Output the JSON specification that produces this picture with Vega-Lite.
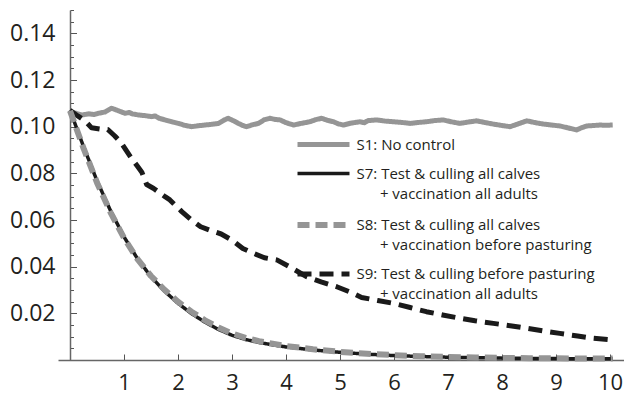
{
  "$schema": "https://vega.github.io/schema/vega-lite/v6.json",
  "width": 565.5,
  "height": 350,
  "autosize": {"type": "none"},
  "padding": {"left": 58, "top": 10, "right": 3.5, "bottom": 34},
  "background": "white",
  "config": {"view": {"stroke": null}, "font": "Open Sans"},
  "data": {"values": [
    {"t": 0, "v": 0.1063, "scenario": "S1: No control"},
    {"t": 0.1, "v": 0.1058, "scenario": "S1: No control"},
    {"t": 0.22, "v": 0.105, "scenario": "S1: No control"},
    {"t": 0.35, "v": 0.1055, "scenario": "S1: No control"},
    {"t": 0.45, "v": 0.1052, "scenario": "S1: No control"},
    {"t": 0.52, "v": 0.1057, "scenario": "S1: No control"},
    {"t": 0.65, "v": 0.1063, "scenario": "S1: No control"},
    {"t": 0.77, "v": 0.1079, "scenario": "S1: No control"},
    {"t": 0.9, "v": 0.1068, "scenario": "S1: No control"},
    {"t": 1.02, "v": 0.1057, "scenario": "S1: No control"},
    {"t": 1.1, "v": 0.1061, "scenario": "S1: No control"},
    {"t": 1.15, "v": 0.1055, "scenario": "S1: No control"},
    {"t": 1.27, "v": 0.105, "scenario": "S1: No control"},
    {"t": 1.4, "v": 0.1047, "scenario": "S1: No control"},
    {"t": 1.51, "v": 0.1043, "scenario": "S1: No control"},
    {"t": 1.58, "v": 0.1046, "scenario": "S1: No control"},
    {"t": 1.65, "v": 0.1036, "scenario": "S1: No control"},
    {"t": 1.76, "v": 0.1029, "scenario": "S1: No control"},
    {"t": 1.9, "v": 0.102, "scenario": "S1: No control"},
    {"t": 2.01, "v": 0.1014, "scenario": "S1: No control"},
    {"t": 2.12, "v": 0.1006, "scenario": "S1: No control"},
    {"t": 2.25, "v": 0.1, "scenario": "S1: No control"},
    {"t": 2.38, "v": 0.1004, "scenario": "S1: No control"},
    {"t": 2.5, "v": 0.1007, "scenario": "S1: No control"},
    {"t": 2.62, "v": 0.101, "scenario": "S1: No control"},
    {"t": 2.75, "v": 0.1014, "scenario": "S1: No control"},
    {"t": 2.85, "v": 0.1028, "scenario": "S1: No control"},
    {"t": 2.93, "v": 0.1036, "scenario": "S1: No control"},
    {"t": 3.03, "v": 0.1025, "scenario": "S1: No control"},
    {"t": 3.12, "v": 0.1014, "scenario": "S1: No control"},
    {"t": 3.2, "v": 0.1005, "scenario": "S1: No control"},
    {"t": 3.27, "v": 0.1, "scenario": "S1: No control"},
    {"t": 3.38, "v": 0.1008, "scenario": "S1: No control"},
    {"t": 3.49, "v": 0.1014, "scenario": "S1: No control"},
    {"t": 3.6, "v": 0.103, "scenario": "S1: No control"},
    {"t": 3.7, "v": 0.1036, "scenario": "S1: No control"},
    {"t": 3.8, "v": 0.1031, "scenario": "S1: No control"},
    {"t": 3.89, "v": 0.1029, "scenario": "S1: No control"},
    {"t": 4.0, "v": 0.1017, "scenario": "S1: No control"},
    {"t": 4.14, "v": 0.1007, "scenario": "S1: No control"},
    {"t": 4.28, "v": 0.1014, "scenario": "S1: No control"},
    {"t": 4.44, "v": 0.1021, "scenario": "S1: No control"},
    {"t": 4.55, "v": 0.103, "scenario": "S1: No control"},
    {"t": 4.66, "v": 0.1036, "scenario": "S1: No control"},
    {"t": 4.77, "v": 0.1027, "scenario": "S1: No control"},
    {"t": 4.88, "v": 0.1021, "scenario": "S1: No control"},
    {"t": 4.97, "v": 0.1012, "scenario": "S1: No control"},
    {"t": 5.06, "v": 0.1007, "scenario": "S1: No control"},
    {"t": 5.2, "v": 0.1015, "scenario": "S1: No control"},
    {"t": 5.37, "v": 0.1021, "scenario": "S1: No control"},
    {"t": 5.45, "v": 0.1017, "scenario": "S1: No control"},
    {"t": 5.52, "v": 0.1026, "scenario": "S1: No control"},
    {"t": 5.68, "v": 0.1029, "scenario": "S1: No control"},
    {"t": 5.83, "v": 0.1024, "scenario": "S1: No control"},
    {"t": 5.99, "v": 0.1021, "scenario": "S1: No control"},
    {"t": 6.15, "v": 0.1018, "scenario": "S1: No control"},
    {"t": 6.3, "v": 0.1014, "scenario": "S1: No control"},
    {"t": 6.45, "v": 0.1018, "scenario": "S1: No control"},
    {"t": 6.6, "v": 0.1021, "scenario": "S1: No control"},
    {"t": 6.75, "v": 0.1026, "scenario": "S1: No control"},
    {"t": 6.91, "v": 0.1029, "scenario": "S1: No control"},
    {"t": 7.06, "v": 0.1021, "scenario": "S1: No control"},
    {"t": 7.22, "v": 0.1014, "scenario": "S1: No control"},
    {"t": 7.38, "v": 0.102, "scenario": "S1: No control"},
    {"t": 7.53, "v": 0.1025, "scenario": "S1: No control"},
    {"t": 7.68, "v": 0.1018, "scenario": "S1: No control"},
    {"t": 7.84, "v": 0.1011, "scenario": "S1: No control"},
    {"t": 8.0, "v": 0.1005, "scenario": "S1: No control"},
    {"t": 8.15, "v": 0.1, "scenario": "S1: No control"},
    {"t": 8.3, "v": 0.1012, "scenario": "S1: No control"},
    {"t": 8.46, "v": 0.1025, "scenario": "S1: No control"},
    {"t": 8.6, "v": 0.1018, "scenario": "S1: No control"},
    {"t": 8.77, "v": 0.1011, "scenario": "S1: No control"},
    {"t": 8.92, "v": 0.1007, "scenario": "S1: No control"},
    {"t": 9.07, "v": 0.1003, "scenario": "S1: No control"},
    {"t": 9.22, "v": 0.0995, "scenario": "S1: No control"},
    {"t": 9.38, "v": 0.0986, "scenario": "S1: No control"},
    {"t": 9.47, "v": 0.0995, "scenario": "S1: No control"},
    {"t": 9.57, "v": 0.1003, "scenario": "S1: No control"},
    {"t": 9.7, "v": 0.1005, "scenario": "S1: No control"},
    {"t": 9.81, "v": 0.1007, "scenario": "S1: No control"},
    {"t": 9.93, "v": 0.1006, "scenario": "S1: No control"},
    {"t": 10.05, "v": 0.1007, "scenario": "S1: No control"},

    {"t": 0, "v": 0.107, "scenario": "S9: Test & culling before pasturing + vaccination all adults"},
    {"t": 0.15, "v": 0.1045, "scenario": "S9: Test & culling before pasturing + vaccination all adults"},
    {"t": 0.28, "v": 0.1025, "scenario": "S9: Test & culling before pasturing + vaccination all adults"},
    {"t": 0.4, "v": 0.0995, "scenario": "S9: Test & culling before pasturing + vaccination all adults"},
    {"t": 0.55, "v": 0.099, "scenario": "S9: Test & culling before pasturing + vaccination all adults"},
    {"t": 0.7, "v": 0.0988, "scenario": "S9: Test & culling before pasturing + vaccination all adults"},
    {"t": 0.83, "v": 0.096, "scenario": "S9: Test & culling before pasturing + vaccination all adults"},
    {"t": 0.95, "v": 0.093, "scenario": "S9: Test & culling before pasturing + vaccination all adults"},
    {"t": 1.05, "v": 0.0895, "scenario": "S9: Test & culling before pasturing + vaccination all adults"},
    {"t": 1.14, "v": 0.0864, "scenario": "S9: Test & culling before pasturing + vaccination all adults"},
    {"t": 1.25, "v": 0.083, "scenario": "S9: Test & culling before pasturing + vaccination all adults"},
    {"t": 1.33, "v": 0.0805, "scenario": "S9: Test & culling before pasturing + vaccination all adults"},
    {"t": 1.42, "v": 0.0752, "scenario": "S9: Test & culling before pasturing + vaccination all adults"},
    {"t": 1.55, "v": 0.0735, "scenario": "S9: Test & culling before pasturing + vaccination all adults"},
    {"t": 1.76, "v": 0.07, "scenario": "S9: Test & culling before pasturing + vaccination all adults"},
    {"t": 1.85, "v": 0.0686, "scenario": "S9: Test & culling before pasturing + vaccination all adults"},
    {"t": 2.07, "v": 0.0636, "scenario": "S9: Test & culling before pasturing + vaccination all adults"},
    {"t": 2.25, "v": 0.06, "scenario": "S9: Test & culling before pasturing + vaccination all adults"},
    {"t": 2.42, "v": 0.0571, "scenario": "S9: Test & culling before pasturing + vaccination all adults"},
    {"t": 2.6, "v": 0.0555, "scenario": "S9: Test & culling before pasturing + vaccination all adults"},
    {"t": 2.8, "v": 0.054, "scenario": "S9: Test & culling before pasturing + vaccination all adults"},
    {"t": 3.0, "v": 0.0514, "scenario": "S9: Test & culling before pasturing + vaccination all adults"},
    {"t": 3.2, "v": 0.0478, "scenario": "S9: Test & culling before pasturing + vaccination all adults"},
    {"t": 3.4, "v": 0.0457, "scenario": "S9: Test & culling before pasturing + vaccination all adults"},
    {"t": 3.6, "v": 0.0438, "scenario": "S9: Test & culling before pasturing + vaccination all adults"},
    {"t": 3.83, "v": 0.0429, "scenario": "S9: Test & culling before pasturing + vaccination all adults"},
    {"t": 4.1, "v": 0.0395, "scenario": "S9: Test & culling before pasturing + vaccination all adults"},
    {"t": 4.38, "v": 0.0357, "scenario": "S9: Test & culling before pasturing + vaccination all adults"},
    {"t": 4.65, "v": 0.0335, "scenario": "S9: Test & culling before pasturing + vaccination all adults"},
    {"t": 4.94, "v": 0.0314, "scenario": "S9: Test & culling before pasturing + vaccination all adults"},
    {"t": 5.2, "v": 0.029, "scenario": "S9: Test & culling before pasturing + vaccination all adults"},
    {"t": 5.4, "v": 0.0268, "scenario": "S9: Test & culling before pasturing + vaccination all adults"},
    {"t": 5.7, "v": 0.0255, "scenario": "S9: Test & culling before pasturing + vaccination all adults"},
    {"t": 5.99, "v": 0.0243, "scenario": "S9: Test & culling before pasturing + vaccination all adults"},
    {"t": 6.3, "v": 0.0225, "scenario": "S9: Test & culling before pasturing + vaccination all adults"},
    {"t": 6.6, "v": 0.0207, "scenario": "S9: Test & culling before pasturing + vaccination all adults"},
    {"t": 6.9, "v": 0.0193, "scenario": "S9: Test & culling before pasturing + vaccination all adults"},
    {"t": 7.22, "v": 0.0179, "scenario": "S9: Test & culling before pasturing + vaccination all adults"},
    {"t": 7.5, "v": 0.0168, "scenario": "S9: Test & culling before pasturing + vaccination all adults"},
    {"t": 7.84, "v": 0.0157, "scenario": "S9: Test & culling before pasturing + vaccination all adults"},
    {"t": 8.15, "v": 0.0147, "scenario": "S9: Test & culling before pasturing + vaccination all adults"},
    {"t": 8.46, "v": 0.0136, "scenario": "S9: Test & culling before pasturing + vaccination all adults"},
    {"t": 8.75, "v": 0.0125, "scenario": "S9: Test & culling before pasturing + vaccination all adults"},
    {"t": 9.07, "v": 0.0114, "scenario": "S9: Test & culling before pasturing + vaccination all adults"},
    {"t": 9.4, "v": 0.0103, "scenario": "S9: Test & culling before pasturing + vaccination all adults"},
    {"t": 9.69, "v": 0.0093, "scenario": "S9: Test & culling before pasturing + vaccination all adults"},
    {"t": 10.03, "v": 0.0086, "scenario": "S9: Test & culling before pasturing + vaccination all adults"},

    {"t": 0, "v": 0.107, "scenario": "S7: Test & culling all calves + vaccination all adults"},
    {"t": 0.25, "v": 0.0915, "scenario": "S7: Test & culling all calves + vaccination all adults"},
    {"t": 0.5, "v": 0.0768, "scenario": "S7: Test & culling all calves + vaccination all adults"},
    {"t": 0.75, "v": 0.064, "scenario": "S7: Test & culling all calves + vaccination all adults"},
    {"t": 1.0, "v": 0.0528, "scenario": "S7: Test & culling all calves + vaccination all adults"},
    {"t": 1.25, "v": 0.0434, "scenario": "S7: Test & culling all calves + vaccination all adults"},
    {"t": 1.5, "v": 0.0357, "scenario": "S7: Test & culling all calves + vaccination all adults"},
    {"t": 1.75, "v": 0.0295, "scenario": "S7: Test & culling all calves + vaccination all adults"},
    {"t": 2.0, "v": 0.0243, "scenario": "S7: Test & culling all calves + vaccination all adults"},
    {"t": 2.25, "v": 0.0199, "scenario": "S7: Test & culling all calves + vaccination all adults"},
    {"t": 2.5, "v": 0.0162, "scenario": "S7: Test & culling all calves + vaccination all adults"},
    {"t": 2.75, "v": 0.0131, "scenario": "S7: Test & culling all calves + vaccination all adults"},
    {"t": 3.0, "v": 0.0106, "scenario": "S7: Test & culling all calves + vaccination all adults"},
    {"t": 3.25, "v": 0.0088, "scenario": "S7: Test & culling all calves + vaccination all adults"},
    {"t": 3.5, "v": 0.0075, "scenario": "S7: Test & culling all calves + vaccination all adults"},
    {"t": 3.75, "v": 0.0065, "scenario": "S7: Test & culling all calves + vaccination all adults"},
    {"t": 4.0, "v": 0.0056, "scenario": "S7: Test & culling all calves + vaccination all adults"},
    {"t": 4.5, "v": 0.0043, "scenario": "S7: Test & culling all calves + vaccination all adults"},
    {"t": 5.0, "v": 0.0033, "scenario": "S7: Test & culling all calves + vaccination all adults"},
    {"t": 5.5, "v": 0.0025, "scenario": "S7: Test & culling all calves + vaccination all adults"},
    {"t": 6.0, "v": 0.0019, "scenario": "S7: Test & culling all calves + vaccination all adults"},
    {"t": 6.5, "v": 0.0015, "scenario": "S7: Test & culling all calves + vaccination all adults"},
    {"t": 7.0, "v": 0.0012, "scenario": "S7: Test & culling all calves + vaccination all adults"},
    {"t": 7.5, "v": 0.001, "scenario": "S7: Test & culling all calves + vaccination all adults"},
    {"t": 8.0, "v": 0.0008, "scenario": "S7: Test & culling all calves + vaccination all adults"},
    {"t": 8.5, "v": 0.0007, "scenario": "S7: Test & culling all calves + vaccination all adults"},
    {"t": 9.0, "v": 0.0006, "scenario": "S7: Test & culling all calves + vaccination all adults"},
    {"t": 9.5, "v": 0.0005, "scenario": "S7: Test & culling all calves + vaccination all adults"},
    {"t": 10.05, "v": 0.0005, "scenario": "S7: Test & culling all calves + vaccination all adults"},

    {"t": 0, "v": 0.1068, "scenario": "S8: Test & culling all calves + vaccination before pasturing"},
    {"t": 0.25, "v": 0.0908, "scenario": "S8: Test & culling all calves + vaccination before pasturing"},
    {"t": 0.5, "v": 0.076, "scenario": "S8: Test & culling all calves + vaccination before pasturing"},
    {"t": 0.75, "v": 0.0633, "scenario": "S8: Test & culling all calves + vaccination before pasturing"},
    {"t": 1.0, "v": 0.0523, "scenario": "S8: Test & culling all calves + vaccination before pasturing"},
    {"t": 1.25, "v": 0.0432, "scenario": "S8: Test & culling all calves + vaccination before pasturing"},
    {"t": 1.5, "v": 0.036, "scenario": "S8: Test & culling all calves + vaccination before pasturing"},
    {"t": 1.75, "v": 0.0301, "scenario": "S8: Test & culling all calves + vaccination before pasturing"},
    {"t": 2.0, "v": 0.025, "scenario": "S8: Test & culling all calves + vaccination before pasturing"},
    {"t": 2.25, "v": 0.0207, "scenario": "S8: Test & culling all calves + vaccination before pasturing"},
    {"t": 2.5, "v": 0.017, "scenario": "S8: Test & culling all calves + vaccination before pasturing"},
    {"t": 2.75, "v": 0.0139, "scenario": "S8: Test & culling all calves + vaccination before pasturing"},
    {"t": 3.0, "v": 0.0114, "scenario": "S8: Test & culling all calves + vaccination before pasturing"},
    {"t": 3.25, "v": 0.0095, "scenario": "S8: Test & culling all calves + vaccination before pasturing"},
    {"t": 3.5, "v": 0.0081, "scenario": "S8: Test & culling all calves + vaccination before pasturing"},
    {"t": 3.75, "v": 0.007, "scenario": "S8: Test & culling all calves + vaccination before pasturing"},
    {"t": 4.0, "v": 0.006, "scenario": "S8: Test & culling all calves + vaccination before pasturing"},
    {"t": 4.5, "v": 0.0046, "scenario": "S8: Test & culling all calves + vaccination before pasturing"},
    {"t": 5.0, "v": 0.0035, "scenario": "S8: Test & culling all calves + vaccination before pasturing"},
    {"t": 5.5, "v": 0.0027, "scenario": "S8: Test & culling all calves + vaccination before pasturing"},
    {"t": 6.0, "v": 0.0021, "scenario": "S8: Test & culling all calves + vaccination before pasturing"},
    {"t": 6.5, "v": 0.0016, "scenario": "S8: Test & culling all calves + vaccination before pasturing"},
    {"t": 7.0, "v": 0.0013, "scenario": "S8: Test & culling all calves + vaccination before pasturing"},
    {"t": 7.5, "v": 0.0011, "scenario": "S8: Test & culling all calves + vaccination before pasturing"},
    {"t": 8.0, "v": 0.0009, "scenario": "S8: Test & culling all calves + vaccination before pasturing"},
    {"t": 8.5, "v": 0.0008, "scenario": "S8: Test & culling all calves + vaccination before pasturing"},
    {"t": 9.0, "v": 0.0007, "scenario": "S8: Test & culling all calves + vaccination before pasturing"},
    {"t": 9.5, "v": 0.0006, "scenario": "S8: Test & culling all calves + vaccination before pasturing"},
    {"t": 10.05, "v": 0.0006, "scenario": "S8: Test & culling all calves + vaccination before pasturing"}
  ]},
  "mark": {"type": "line", "strokeCap": "butt", "strokeJoin": "round"},
  "encoding": {
    "x": {
      "field": "t", "type": "quantitative",
      "scale": {"domain": [-0.2222, 10.25], "nice": false, "zero": false},
      "axis": {
        "title": null, "grid": false,
        "values": [1, 2, 3, 4, 5, 6, 7, 8, 9, 10],
        "format": "d",
        "tickSize": -6, "tickColor": "#555555", "tickWidth": 1,
        "domainColor": "#666666", "domainWidth": 1.5,
        "labelPadding": 18, "labelFontSize": 22, "labelFont": "Open Sans",
        "labelColor": "#231f20", "labelFlush": false, "labelOverlap": false
      }
    },
    "y": {
      "field": "v", "type": "quantitative",
      "scale": {"domain": [0, 0.15], "nice": false, "zero": true},
      "axis": {
        "title": null, "grid": false, "offset": -12,
        "values": [0.005, 0.01, 0.015, 0.02, 0.025, 0.03, 0.035, 0.04, 0.045, 0.05, 0.055, 0.06, 0.065, 0.07, 0.075, 0.08, 0.085, 0.09, 0.095, 0.1, 0.105, 0.11, 0.115, 0.12, 0.125, 0.13, 0.135, 0.14, 0.145, 0.15],
        "labelExpr": "abs(datum.value * 50 - round(datum.value * 50)) < 0.01 && datum.value < 0.149 ? format(datum.value, '.2f') : ''",
        "tickSize": {"condition": {"test": "abs(datum.value * 50 - round(datum.value * 50)) < 0.01", "value": -6.5}, "value": -3.5},
        "tickColor": "#555555", "tickWidth": 1,
        "domainColor": "#666666", "domainWidth": 1.5,
        "labelPadding": 21.5, "labelFontSize": 23, "labelFont": "Open Sans",
        "labelColor": "#231f20", "labelFlush": false, "labelOverlap": false
      }
    },
    "color": {
      "field": "scenario", "type": "nominal",
      "scale": {
        "domain": ["S1: No control", "S7: Test & culling all calves + vaccination all adults", "S8: Test & culling all calves + vaccination before pasturing", "S9: Test & culling before pasturing + vaccination all adults"],
        "range": ["#959595", "#1a1a1a", "#959595", "#1a1a1a"]
      },
      "legend": {
        "title": null, "orient": "none", "legendX": 256, "legendY": 125.5,
        "symbolType": "M-4,0H4", "symbolSize": 169,
        "labelExpr": "indexof(datum.label, ' + ') > 0 ? [substring(datum.label, 0, indexof(datum.label, ' + ')), '\u200b\u00a0\u00a0\u00a0\u00a0\u00a0\u00a0' + substring(datum.label, indexof(datum.label, ' + ') + 1)] : datum.label",
        "labelFont": "Open Sans", "labelFontSize": 15, "labelColor": "#231f20",
        "labelLimit": 0, "labelOffset": 23.5, "rowPadding": 10.5, "padding": 0,
        "encode": {"labels": {"update": {"lineHeight": {"value": 20}}}}
      }
    },
    "strokeDash": {
      "field": "scenario", "type": "nominal",
      "scale": {
        "domain": ["S1: No control", "S7: Test & culling all calves + vaccination all adults", "S8: Test & culling all calves + vaccination before pasturing", "S9: Test & culling before pasturing + vaccination all adults"],
        "range": [[1, 0], [1, 0], [12, 6], [14, 8]]
      },
      "legend": null
    },
    "strokeWidth": {
      "field": "scenario", "type": "nominal",
      "scale": {
        "type": "ordinal",
        "domain": ["S1: No control", "S7: Test & culling all calves + vaccination all adults", "S8: Test & culling all calves + vaccination before pasturing", "S9: Test & culling before pasturing + vaccination all adults"],
        "range": [5, 3.5, 6, 5]
      },
      "legend": null
    }
  }
}
